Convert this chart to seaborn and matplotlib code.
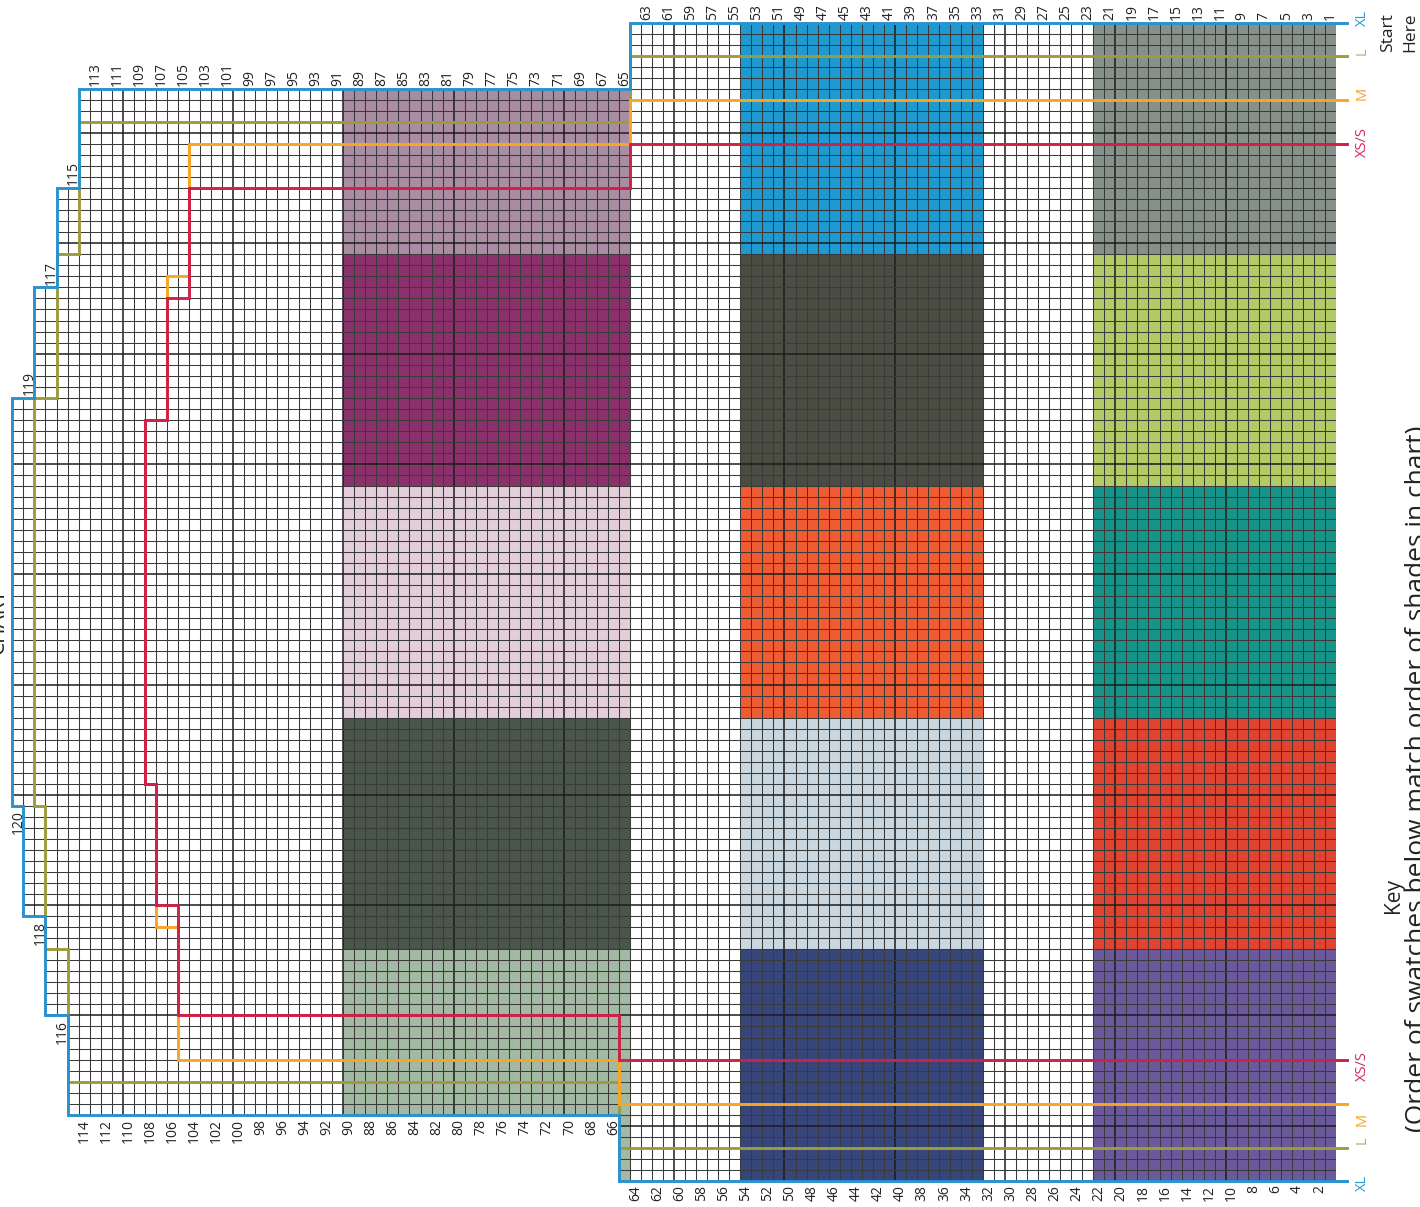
import numpy as np
import matplotlib
matplotlib.use("Agg")
import matplotlib.pyplot as plt
from matplotlib.colors import ListedColormap
import seaborn as sns

plt.rcParams['font.family'] = ['Open Sans', 'DejaVu Sans']

n_rows = 120
n_stitches = 105
block_width = 21

# colour stripes (first row, last row) and their five shades, top to bottom
stripe_rows = [(1, 22), (33, 54), (65, 90)]
stripe_1_colors = ["#86918A", "#B3CB67", "#17948A", "#E0432F", "#6B5A9B"]
stripe_2_colors = ["#1F9AD0", "#4C4D42", "#F15B32", "#CAD7E0", "#37467A"]
stripe_3_colors = ["#AA8CA3", "#8A306A", "#E3CED9", "#4B564B", "#A3B9A4"]

# size outlines: (first row, stitch edge) steps
sizes = ["XL", "L", "M", "XS/S"]
xl_top = [(1, 0), (65, 6), (115, 15), (117, 24), (119, 34)]
xl_bottom = [(1, 105), (66, 99), (116, 90), (118, 81), (120, 71)]
l_top = [(1, 3), (65, 9), (115, 21), (117, 34)]
l_bottom = [(1, 102), (66, 96), (116, 84), (118, 71)]
m_top = [(1, 7), (65, 11), (105, 23), (107, 36)]
m_bottom = [(1, 98), (66, 94), (106, 82), (108, 69)]
s_top = [(1, 11), (65, 15), (105, 25), (107, 36)]
s_bottom = [(1, 94), (66, 90), (106, 80), (108, 69)]
last_rows = [120, 118, 108, 108]
line_colors = ["#2992CF", "#9D9C3C", "#F8A623", "#CF2049"]
label_colors = ["#2A9AD6", "#B3B07A", "#F6A12A", "#D2285A"]


def expand(steps, last):
    vals = np.full(last + 1, np.nan)
    for k, (start, edge) in enumerate(steps):
        stop = steps[k + 1][0] if k + 1 < len(steps) else last + 1
        vals[start:stop] = edge
    return vals


def outline(top, bottom, last):
    xs, ys = [n_rows + 1], [top[1]]
    for r in range(1, last + 1):
        xs += [n_rows + 1 - r, n_rows - r]
        ys += [top[r], top[r]]
    for r in range(last, 0, -1):
        xs += [n_rows - r, n_rows + 1 - r]
        ys += [bottom[r], bottom[r]]
    xs.append(n_rows + 1)
    ys.append(bottom[1])
    return xs, ys


tops = [expand(s, n) for s, n in zip([xl_top, l_top, m_top, s_top], last_rows)]
bottoms = [expand(s, n) for s, n in zip([xl_bottom, l_bottom, m_bottom, s_bottom], last_rows)]
top_xl, bot_xl = tops[0], bottoms[0]

# cell codes: nan outside the chart, 0 white, 1.. shades
palette = ["#FFFFFF"] + stripe_1_colors + stripe_2_colors + stripe_3_colors
grid = np.full((n_stitches, n_rows), np.nan)
for r in range(1, n_rows + 1):
    j = n_rows - r
    grid[int(top_xl[r]):int(bot_xl[r]), j] = 0
for k, (first, last) in enumerate(stripe_rows):
    for r in range(first, last + 1):
        j = n_rows - r
        for b in range(5):
            lo = max(b * block_width, int(top_xl[r]))
            hi = min((b + 1) * block_width, int(bot_xl[r]))
            grid[lo:hi, j] = 1 + k * 5 + b

fig = plt.figure(figsize=(14.2, 12.07), dpi=100)
ax = fig.add_axes([12.4 / 1420, (1207 - 1180.9) / 1207, 1323.6 / 1420, 1158.2 / 1207])
sns.heatmap(grid, mask=np.isnan(grid), cmap=ListedColormap(palette),
            vmin=-0.5, vmax=len(palette) - 0.5, cbar=False,
            xticklabels=False, yticklabels=False, linewidths=0, ax=ax)
ax.set_axis_off()

# grid lines only inside the chart shape, a little heavier every 10
col_top = np.array([top_xl[n_rows - j] for j in range(n_rows)])
col_bot = np.array([bot_xl[n_rows - j] for j in range(n_rows)])
for x in range(n_rows + 1):
    nb = [c for c in (x - 1, x) if 0 <= c < n_rows]
    y0, y1 = col_top[nb].min(), col_bot[nb].max()
    row_b = n_rows - x
    thick = row_b % 10 == 0 and 0 < row_b < n_rows
    ax.vlines(x, y0, y1, color="#1c1c1c" if thick else "#3a3a3a",
              lw=1.1 if thick else 0.75, zorder=2)
for s in range(n_stitches + 1):
    cols = np.where((col_top <= s) & (col_bot >= s))[0]
    thick = s % 10 == 0 and 0 < s < n_stitches
    ax.hlines(s, cols.min(), cols.max() + 1, color="#1c1c1c" if thick else "#3a3a3a",
              lw=1.1 if thick else 0.75, zorder=2)

# size outlines
for i, z in zip([1, 2, 3, 0], [3, 4, 5, 6]):
    xs, ys = outline(tops[i], bottoms[i], last_rows[i])
    ax.plot(xs, ys, color=line_colors[i], lw=2.1, clip_on=False,
            solid_joinstyle="miter", zorder=z)

# row numbers: odd above the chart, even below
for r in range(1, n_rows + 1):
    x = n_rows - r + 0.5
    if r % 2:
        ax.text(x, top_xl[r] - 0.25, str(r), rotation=90, ha="center", va="bottom",
                fontsize=10, color="#222222")
    else:
        ax.text(x, bot_xl[r] + 0.4, str(r), rotation=90, ha="center", va="top",
                fontsize=10, color="#222222")

# size labels at the right
label_top_y = [-0.47, 2.6, 6.4, 10.8]
label_bot_y = [105.2, 101.3, 99.4, 94.6]
for i, name in enumerate(sizes):
    ax.text(122.4, label_top_y[i], name, rotation=90, ha="center", va="center",
            fontsize=10.5, color=label_colors[i])
    ax.text(122.4, label_bot_y[i], name, rotation=90, ha="center", va="center",
            fontsize=10.5, color=label_colors[i])

ax.text(124.7, -0.9, "Start", rotation=90, ha="center", va="top", fontsize=12.5, color="#222222")
ax.text(126.7, -0.9, "Here", rotation=90, ha="center", va="top", fontsize=12.5, color="#222222")
ax.text(125.2, 79.1, "Key", rotation=90, ha="center", va="center", fontsize=15, color="#222222")
ax.text(127.3, 36.5, "(Order of swatches below match order of shades in chart)", rotation=90,
        ha="center", va="top", fontsize=19, color="#222222")
ax.text(-0.35, 54.2, "CHART", rotation=90, ha="right", va="center", fontsize=15, color="#222222")

fig.savefig("out.png", dpi=100)
